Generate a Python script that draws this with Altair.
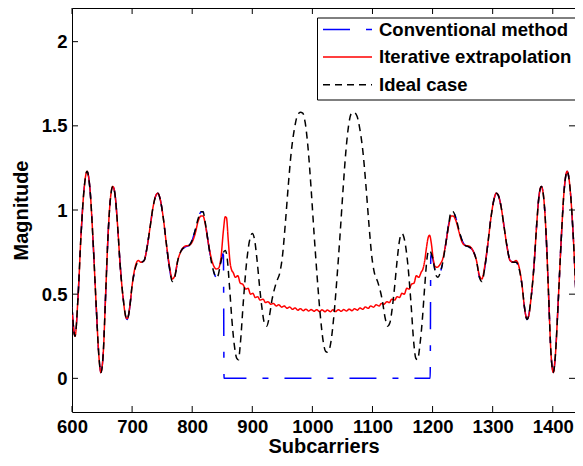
import altair as alt
import pandas as pd

# ---------------- data ----------------
series_names = ["Conventional method", "Iterative extrapolation", "Ideal case"]

edge_left_x = [600, 605, 610, 615, 620, 625, 630, 635, 640, 645, 648, 652, 656, 660, 664,
               668, 672, 676, 680, 685, 690, 692, 696, 700, 705, 710, 715, 720, 725, 730,
               735, 740, 743, 747, 752, 757, 762, 767, 771, 776, 782, 788, 795, 800, 805,
               810, 815, 818, 822, 827, 832, 837, 840, 843, 847, 851]
edge_left_y = [0.42, 0.25, 0.48, 0.85, 1.12, 1.23, 1.12, 0.82, 0.45, 0.12, 0.035, 0.15, 0.5, 0.85, 1.07,
               1.14, 1.08, 0.9, 0.68, 0.48, 0.36, 0.35, 0.42, 0.55, 0.65, 0.69, 0.69, 0.70, 0.78, 0.90,
               1.02, 1.09, 1.10, 1.06, 0.95, 0.80, 0.66, 0.575, 0.60, 0.70, 0.76, 0.78, 0.79, 0.82, 0.88,
               0.95, 0.99, 0.99, 0.92, 0.80, 0.69, 0.62, 0.60, 0.61, 0.68, 0.74]

edge_right_x = [1198, 1202, 1206, 1209, 1212, 1217, 1222, 1227, 1231, 1234, 1239, 1244, 1249, 1254, 1261,
                1267, 1273, 1278, 1282, 1287, 1292, 1297, 1302, 1306, 1309, 1314, 1319, 1324, 1329, 1334,
                1339, 1344, 1349, 1353, 1357, 1359, 1364, 1369, 1373, 1377, 1381, 1385, 1389, 1393, 1397,
                1401, 1404, 1409, 1414, 1419, 1424, 1429, 1434, 1439, 1444, 1449]
edge_right_y = [0.74, 0.68, 0.61, 0.60, 0.62, 0.69, 0.80, 0.92, 0.99, 0.99, 0.95, 0.88, 0.82, 0.79, 0.78,
                0.76, 0.70, 0.60, 0.575, 0.66, 0.80, 0.95, 1.06, 1.10, 1.09, 1.02, 0.90, 0.78, 0.70, 0.69,
                0.69, 0.65, 0.55, 0.42, 0.35, 0.36, 0.48, 0.68, 0.9, 1.08, 1.14, 1.07, 0.85, 0.5, 0.15,
                0.035, 0.12, 0.45, 0.82, 1.12, 1.23, 1.12, 0.85, 0.48, 0.25, 0.42]

ideal_mid_x = [855, 858, 862, 866, 870, 874, 877, 880, 885, 890, 895, 900, 904, 908, 912,
               916, 920, 924, 928, 933, 940, 946, 950, 955, 960, 965, 970, 975, 980, 984,
               988, 993, 998, 1003, 1008, 1013, 1018, 1022, 1025, 1027, 1031, 1036, 1041, 1046, 1051,
               1056, 1061, 1065, 1069, 1074, 1079, 1084, 1089, 1094, 1099, 1103, 1109, 1116, 1121, 1125,
               1129, 1133, 1137, 1141, 1145, 1149, 1154, 1159, 1164, 1169, 1172, 1175, 1179, 1183, 1187,
               1191, 1194]
ideal_mid_y = [0.76, 0.72, 0.55, 0.35, 0.2, 0.12, 0.11, 0.2, 0.45, 0.67, 0.81, 0.86, 0.82, 0.70, 0.55,
               0.42, 0.33, 0.31, 0.36, 0.47, 0.57, 0.63, 0.72, 0.92, 1.15, 1.35, 1.48, 1.56, 1.58, 1.575,
               1.52, 1.36, 1.12, 0.85, 0.6, 0.38, 0.22, 0.16, 0.155, 0.16, 0.22, 0.38, 0.6, 0.85, 1.12,
               1.36, 1.52, 1.575, 1.58, 1.56, 1.48, 1.35, 1.15, 0.92, 0.72, 0.63, 0.57, 0.47, 0.36, 0.31,
               0.33, 0.42, 0.55, 0.70, 0.82, 0.86, 0.81, 0.67, 0.45, 0.2, 0.12, 0.11, 0.2, 0.35, 0.55,
               0.72, 0.76]

conv_mid_x = [852, 853, 1196, 1197]
conv_mid_y = [0.73, 0.0, 0.0, 0.72]

red_left_x = [600, 605, 610, 615, 620, 625, 630, 635, 640, 645, 648, 652, 656, 660, 664,
              668, 672, 676, 680, 685, 690, 692, 696, 700, 705, 710, 715, 720, 725, 730,
              735, 740, 743, 747, 752, 757, 762, 767, 771, 776, 782, 788, 795, 800, 805,
              810, 815, 818, 822, 827, 832]
red_left_y = [0.42, 0.25, 0.48, 0.85, 1.12, 1.23, 1.12, 0.82, 0.45, 0.12, 0.035, 0.15, 0.5, 0.85, 1.07,
              1.14, 1.08, 0.9, 0.68, 0.48, 0.36, 0.355, 0.42, 0.55, 0.66, 0.70, 0.69, 0.70, 0.78, 0.90,
              1.02, 1.09, 1.10, 1.06, 0.95, 0.80, 0.67, 0.59, 0.61, 0.70, 0.76, 0.785, 0.79, 0.81, 0.86,
              0.935, 0.965, 0.965, 0.91, 0.80, 0.71]
red_mid_x = [837, 840, 844, 848, 852, 855, 857, 860, 863, 866, 868, 872, 876, 880, 884,
             889, 893, 897, 901, 905, 909, 913, 918, 922, 926, 931, 935, 940, 944, 949,
             953, 958, 962, 967, 971, 976, 980, 985, 989, 994, 998, 1003, 1007, 1012, 1016,
             1021, 1025, 1030, 1034, 1039, 1043, 1048, 1052, 1057, 1061, 1066, 1070, 1075, 1079, 1084,
             1088, 1093, 1097, 1102, 1106, 1111, 1115, 1119, 1124, 1128, 1132, 1137, 1141, 1145, 1149,
             1153, 1157, 1161, 1165, 1169, 1173, 1177, 1181, 1184, 1187, 1190, 1193, 1195, 1198, 1201,
             1204, 1207, 1210, 1213, 1217]
red_mid_y = [0.66, 0.65, 0.655, 0.72, 0.88, 0.96, 0.955, 0.82, 0.69, 0.64, 0.63, 0.60, 0.61, 0.565, 0.56,
             0.53, 0.535, 0.50, 0.505, 0.48, 0.485, 0.465, 0.47, 0.45, 0.455, 0.44, 0.445, 0.43, 0.437, 0.423,
             0.43, 0.416, 0.424, 0.41, 0.418, 0.405, 0.414, 0.402, 0.411, 0.40, 0.409, 0.398, 0.408, 0.397, 0.407,
             0.396, 0.406, 0.396, 0.407, 0.397, 0.408, 0.398, 0.409, 0.40, 0.411, 0.402, 0.414, 0.405, 0.418, 0.41,
             0.424, 0.416, 0.43, 0.423, 0.437, 0.43, 0.445, 0.44, 0.455, 0.45, 0.47, 0.465, 0.485, 0.48, 0.505,
             0.50, 0.535, 0.53, 0.56, 0.565, 0.61, 0.60, 0.63, 0.65, 0.70, 0.78, 0.84, 0.85, 0.80, 0.71,
             0.665, 0.66, 0.665, 0.68, 0.71]
red_right_x = [1222, 1227, 1231, 1234, 1239, 1244, 1249, 1254, 1261, 1267, 1273, 1278, 1282, 1287, 1292,
               1297, 1302, 1306, 1309, 1314, 1319, 1324, 1329, 1334, 1339, 1344, 1349, 1353, 1357, 1359,
               1364, 1369, 1373, 1377, 1381, 1385, 1389, 1393, 1397, 1401, 1404, 1409, 1414, 1419, 1424,
               1429, 1434, 1439, 1444, 1449]
red_right_y = [0.80, 0.91, 0.965, 0.965, 0.935, 0.87, 0.81, 0.79, 0.785, 0.76, 0.70, 0.61, 0.59, 0.67, 0.80,
               0.95, 1.06, 1.10, 1.09, 1.02, 0.90, 0.78, 0.70, 0.69, 0.70, 0.66, 0.55, 0.42, 0.355, 0.36,
               0.48, 0.68, 0.9, 1.08, 1.14, 1.07, 0.85, 0.5, 0.15, 0.035, 0.12, 0.45, 0.82, 1.12, 1.23,
               1.12, 0.85, 0.48, 0.25, 0.42]

x_ticks = [600, 700, 800, 900, 1000, 1100, 1200, 1300, 1400]
y_ticks = [0, 0.5, 1, 1.5, 2]

# ---------------- build table ----------------
series_data = {
    "Conventional method": (edge_left_x + conv_mid_x + edge_right_x,
                            edge_left_y + conv_mid_y + edge_right_y),
    "Iterative extrapolation": (red_left_x + red_mid_x + red_right_x,
                                red_left_y + red_mid_y + red_right_y),
    "Ideal case": (edge_left_x + ideal_mid_x + edge_right_x,
                   edge_left_y + ideal_mid_y + edge_right_y),
}
rows = []
for name, (xs, ys) in series_data.items():
    assert len(xs) == len(ys), name
    for xv, yv in zip(xs, ys):
        rows.append({"series": name, "x": xv, "y": yv})
df = pd.DataFrame(rows)
xt_df = pd.DataFrame({"x": x_ticks})
yt_df = pd.DataFrame({"y": y_ticks})

# plot area 503 x 404 so the whole page (8px margins) fits 583 x 466 without rescaling
W, H = 503, 404
FONT = "Liberation Sans"
xscale = alt.Scale(domain=[600, 1437], nice=False, zero=False)
yscale = alt.Scale(domain=[-0.2, 2.2], nice=False, zero=False)

legend = alt.Legend(
    title=None, orient="none", legendX=245, legendY=9.5,
    symbolType="stroke", symbolSize=2401, symbolStrokeWidth=1.5,
    labelFont=FONT, labelFontSize=18.5, labelFontWeight="bold", labelColor="black",
    labelOffset=6, labelLimit=400, rowPadding=8.6, padding=5, clipHeight=14,
    strokeColor="black", fillColor="white", cornerRadius=0,
)
color = alt.Color("series:N", scale=alt.Scale(domain=series_names,
                                              range=["#0000ff", "#ff0000", "#000000"]),
                  legend=legend)
dash = alt.StrokeDash("series:N", scale=alt.Scale(domain=series_names,
                                                   range=[[27, 16, 6, 16], [1, 0], [7, 5]]),
                      legend=legend)

xaxis = alt.Axis(values=x_ticks, format="d", title="Subcarriers", labelPadding=5,
                 titlePadding=0.5, labelFlush=False)
yaxis = alt.Axis(values=y_ticks, format="~g", title="Magnitude", labelPadding=5, titlePadding=10)


def line_layer(name):
    return alt.Chart(df).transform_filter(alt.datum.series == name).mark_line(
        strokeWidth=1.5, interpolate="monotone", clip=True
    ).encode(
        x=alt.X("x:Q", scale=xscale, axis=xaxis),
        y=alt.Y("y:Q", scale=yscale, axis=yaxis),
        color=color,
        strokeDash=dash,
        order="x:Q",
    )


tick_top = alt.Chart(xt_df).mark_rule(color="black", strokeWidth=1).encode(
    x=alt.X("x:Q", scale=xscale, axis=xaxis), y=alt.value(0), y2=alt.value(6))
tick_bot = alt.Chart(xt_df).mark_rule(color="black", strokeWidth=1).encode(
    x=alt.X("x:Q", scale=xscale, axis=xaxis), y=alt.value(H), y2=alt.value(H - 6))
tick_left = alt.Chart(yt_df).mark_rule(color="black", strokeWidth=1).encode(
    y=alt.Y("y:Q", scale=yscale, axis=yaxis), x=alt.value(0), x2=alt.value(6))
tick_right = alt.Chart(yt_df).mark_rule(color="black", strokeWidth=1).encode(
    y=alt.Y("y:Q", scale=yscale, axis=yaxis), x=alt.value(W), x2=alt.value(W - 6))

chart = alt.layer(
    line_layer("Conventional method"),
    line_layer("Iterative extrapolation"),
    line_layer("Ideal case"),
    tick_top, tick_bot, tick_left, tick_right,
).properties(
    width=W, height=H,
    autosize=alt.AutoSizeParams(type="none"),
    padding={"left": 64, "top": 0, "right": 0, "bottom": 45},
).configure_view(
    stroke="black", strokeWidth=1
).configure_axis(
    domain=False, ticks=False, grid=False,
    labelFont=FONT, labelFontSize=18.5, labelFontWeight="bold", labelColor="black",
    titleFont=FONT, titleFontSize=20, titleFontWeight="bold", titleColor="black",
)

chart.save("out.html", embed_options={"renderer": "svg", "actions": False})
